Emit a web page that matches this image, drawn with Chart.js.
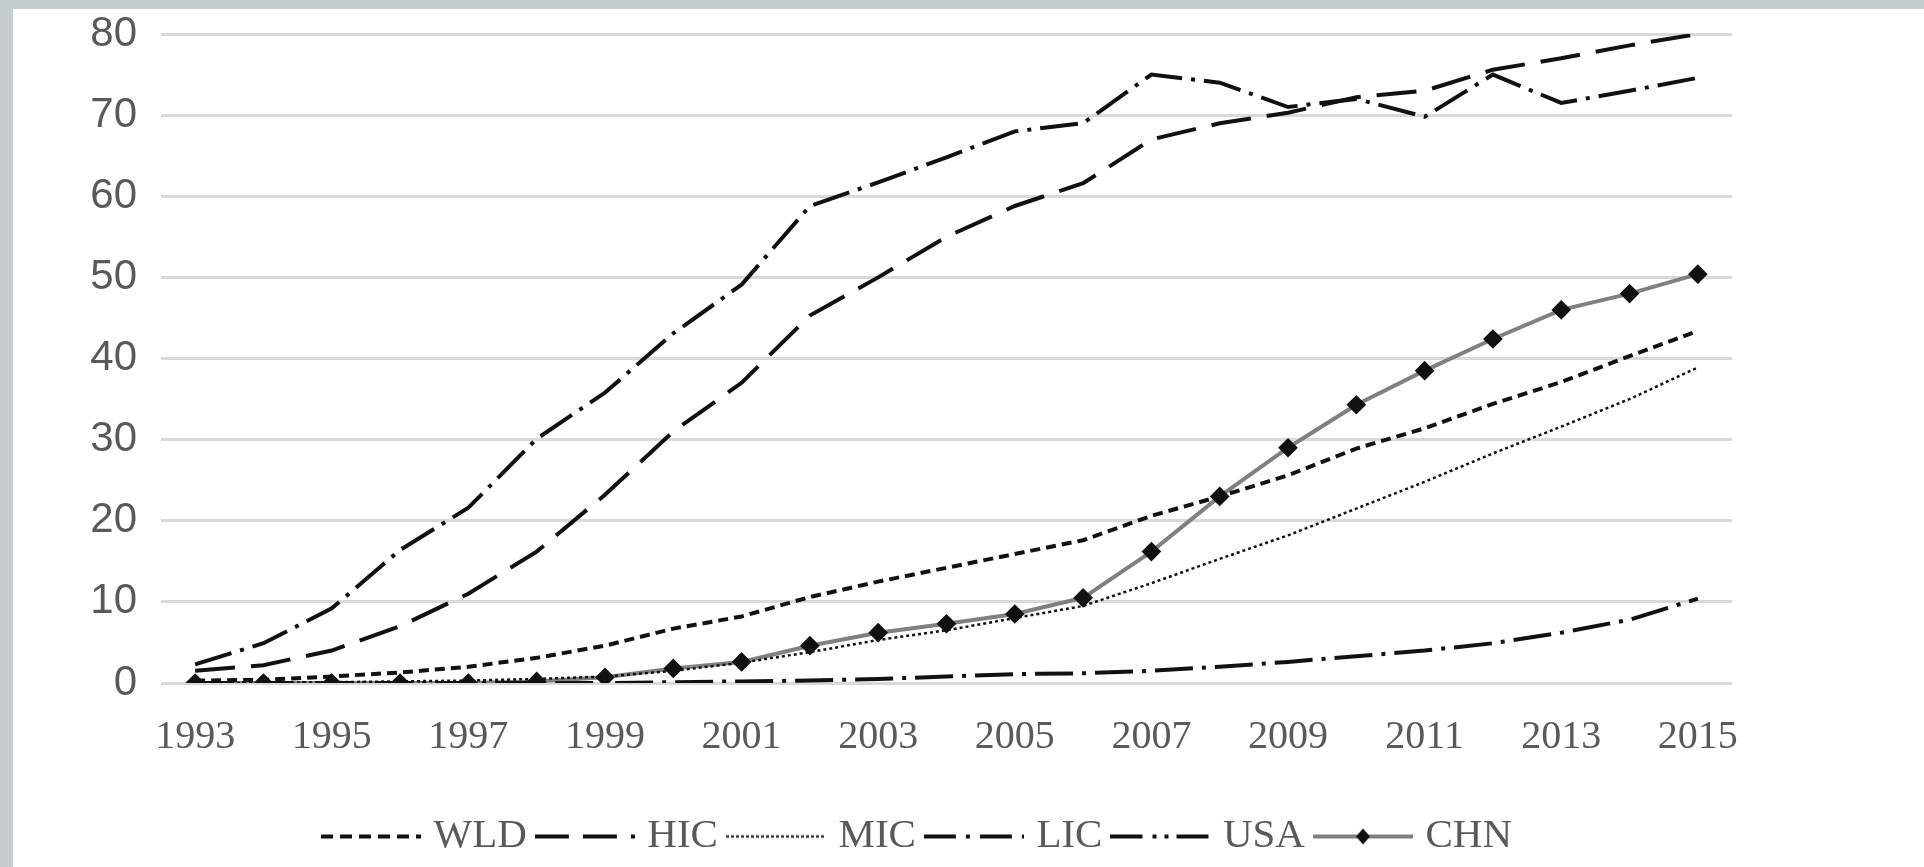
<!DOCTYPE html>
<html>
<head>
<meta charset="utf-8">
<script src="https://cdn.jsdelivr.net/npm/chart.js@4/dist/chart.umd.min.js"></script>
<style>
  body { margin: 0; background: #c5cdd0; }
  #caja { position: absolute; left: 13px; top: 9px; width: 1911px; height: 858px; background: #fff; }
</style>
</head>
<body>
<div id="caja"><canvas id="myChart" width="1911" height="858"></canvas></div>
<script>
var anios = ['1993', '1994', '1995', '1996', '1997', '1998', '1999', '2000', '2001', '2002', '2003', '2004',
  '2005', '2006', '2007', '2008', '2009', '2010', '2011', '2012', '2013', '2014', '2015']

var wld = [0.3, 0.4, 0.8, 1.3, 2.0, 3.1, 4.6, 6.7, 8.2, 10.6, 12.5, 14.2, 15.9, 17.6, 20.6, 23.0, 25.6, 28.9, 31.4, 34.4, 37.1, 40.3, 43.4]
var hic = [1.5, 2.2, 4.0, 7.0, 11.0, 16.2, 23.2, 31.0, 37.0, 45.3, 50.0, 55.0, 58.8, 61.6, 67.0, 69.0, 70.3, 72.2, 73.0, 75.6, 77.0, 78.6, 80.0]
var mic = [0.0, 0.0, 0.1, 0.2, 0.3, 0.5, 0.8, 1.5, 2.5, 3.8, 5.3, 6.5, 8.0, 9.5, 12.3, 15.3, 18.2, 21.5, 24.8, 28.3, 31.6, 35.0, 38.9]
var lic = [0.0, 0.0, 0.0, 0.0, 0.0, 0.0, 0.0, 0.1, 0.2, 0.3, 0.5, 0.8, 1.1, 1.2, 1.5, 2.0, 2.6, 3.3, 4.0, 4.9, 6.2, 7.8, 10.4]
var usa = [2.3, 4.9, 9.2, 16.4, 21.6, 30.1, 35.8, 43.1, 49.1, 58.8, 61.7, 64.8, 68.0, 69.0, 75.0, 74.0, 71.0, 72.0, 69.8, 75.0, 71.5, 73.0, 74.6]
var chn = [0.0, 0.0, 0.0, 0.0, 0.0, 0.2, 0.7, 1.8, 2.6, 4.6, 6.2, 7.3, 8.5, 10.5, 16.2, 23.0, 29.0, 34.3, 38.5, 42.4, 46.0, 48.0, 50.4]

var nombres = ['WLD', 'HIC', 'MIC', 'LIC', 'USA', 'CHN']

var gris = '#595959'

// muestra de linea para la leyenda
function muestra(dash, ancho, color, rombo) {
  var c = document.createElement('canvas')
  c.width = 100
  c.height = 20
  var g = c.getContext('2d')
  g.strokeStyle = color
  g.lineWidth = ancho
  g.setLineDash(dash)
  g.beginPath()
  g.moveTo(0, 10)
  g.lineTo(100, 10)
  g.stroke()
  if (rombo) {
    g.fillStyle = '#111'
    g.beginPath()
    g.moveTo(50, 2)
    g.lineTo(57, 10)
    g.lineTo(50, 18)
    g.lineTo(43, 10)
    g.closePath()
    g.fill()
  }
  return c
}

var muestras = [
  muestra([12, 7], 4, '#111'),
  muestra([34, 14], 4, '#111'),
  muestra([3, 2], 2.5, '#333'),
  muestra([32, 10, 4, 10], 4, '#111'),
  muestra([32, 10, 4, 8, 4, 8], 4, '#111'),
  muestra([], 4, '#808080', true)
]

function linea(nombre, datos, dash, ancho) {
  return {
    label: nombre,
    data: datos,
    borderColor: '#111',
    borderWidth: ancho,
    borderDash: dash,
    pointRadius: 0,
    fill: false,
    tension: 0
  }
}

// la leyenda va algo mas a la izquierda que el centro del area
var moverLeyenda = {
  id: 'moverLeyenda',
  afterLayout: function (chart) {
    chart.legend.left -= 52
  }
}

new Chart('myChart', {
  type: 'line',
  data: {
    labels: anios,
    datasets: [
      linea(nombres[0], wld, [10, 6], 4),
      linea(nombres[1], hic, [40, 16], 4),
      linea(nombres[2], mic, [3, 3], 2.5),
      linea(nombres[3], lic, [38, 9, 4, 9], 4),
      linea(nombres[4], usa, [38, 9, 4, 9], 4),
      {
        label: nombres[5],
        data: chn,
        borderColor: '#808080',
        borderWidth: 4,
        pointStyle: 'rectRot',
        pointRadius: 7,
        pointBackgroundColor: '#111',
        pointBorderColor: '#111',
        fill: false,
        tension: 0
      }
    ]
  },
  plugins: [moverLeyenda],
  options: {
    responsive: false,
    animation: false,
    events: [],
    layout: { padding: { left: 0, right: 192, top: 25, bottom: 0 } },
    scales: {
      x: {
        offset: true,
        afterFit: function (scale) { scale.height += 9 },
        grid: { display: false, drawTicks: false },
        border: { display: false },
        ticks: {
          autoSkip: false,
          maxRotation: 0,
          padding: 30,
          color: gris,
          font: { family: 'Liberation Serif', size: 40 },
          callback: function (val, i) { return i % 2 === 0 ? this.getLabelForValue(val) : '' }
        }
      },
      y: {
        min: 0,
        max: 80,
        afterFit: function (scale) {
          scale.width = 148
          scale.paddingTop = 0
        },
        grid: { color: '#d9d9d9', lineWidth: 3, drawTicks: false },
        border: { display: false },
        ticks: {
          stepSize: 10,
          padding: 24,
          color: gris,
          font: { family: 'Liberation Sans', size: 42 }
        }
      }
    },
    plugins: {
      tooltip: { enabled: false },
      legend: {
        display: true,
        position: 'bottom',
        fullSize: false,
        labels: {
          usePointStyle: true,
          pointStyleWidth: 84,
          boxHeight: 20,
          padding: 16,
          color: gris,
          font: { family: 'Liberation Serif', size: 41 },
          generateLabels: function (chart) {
            var items = Chart.defaults.plugins.legend.labels.generateLabels(chart)
            items.forEach(function (it, i) { it.pointStyle = muestras[i] })
            return items
          }
        }
      }
    }
  }
})
</script>
</body>
</html>
